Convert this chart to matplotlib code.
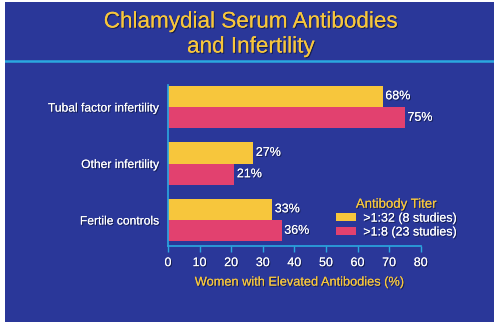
import matplotlib
matplotlib.use("Agg")
import matplotlib.pyplot as plt
import matplotlib.patheffects as pe
import numpy as np

categories = ["Tubal factor infertility", "Other infertility", "Fertile controls"]
titer_1_32 = [68, 27, 33]
titer_1_8 = [75, 21, 36]
series_labels = [">1:32 (8 studies)", ">1:8 (23 studies)"]
xticks = [0, 10, 20, 30, 40, 50, 60, 70, 80]

BG = "#2a3799"
YEL = "#f7c63c"
PINK = "#e2416f"
CYAN = "#2aa8e0"
W = 500; H = 327

plt.rcParams['font.family'] = ['Liberation Sans', 'DejaVu Sans']
shadow = [pe.withSimplePatchShadow(offset=(0.8, -0.8), shadow_rgbFace='#101840', alpha=0.8), pe.Normal()]

fig = plt.figure(figsize=(5, 3.27), dpi=100, facecolor="white")
bg = fig.add_axes([5/W, 1-322/H, (494-5)/W, (322-2)/H], zorder=-5)
bg.set_facecolor(BG)
bg.set_xticks([]); bg.set_yticks([])
for s in bg.spines.values():
    s.set_visible(False)
bg.set_xlim(5, 494); bg.set_ylim(322, 2)
bg.plot([5, 494], [61, 61], color=CYAN, lw=1.8)
bg.text(251, 22, "Chlamydial Serum Antibodies", color=YEL, fontsize=16.2, ha="center", va="center", path_effects=shadow)
bg.text(251, 47, "and Infertility", color=YEL, fontsize=16.2, ha="center", va="center", path_effects=shadow)

ax = fig.add_axes([168/W, 1-246/H, (420.7-168)/W, (246-85)/H], zorder=2)
ax.set_facecolor("none")
y = np.arange(len(categories))
h = 0.38
b1 = ax.barh(y - h/2, titer_1_32, height=h, color=YEL, label=series_labels[0])
b2 = ax.barh(y + h/2, titer_1_8, height=h, color=PINK, label=series_labels[1])
for bars, vals in ((b1, titer_1_32), (b2, titer_1_8)):
    for r, v in zip(bars, vals):
        ax.text(v + 0.8, r.get_y() + r.get_height()/2, f"{v}%", color="white", fontsize=9,
                va="center", ha="left", path_effects=shadow)
ax.set_xlim(0, 80)
ax.set_ylim(2.46, -0.39)
ax.set_xticks(xticks)
ax.set_xticklabels([str(t) for t in xticks], color="white", fontsize=9)
for t in ax.get_xticklabels():
    t.set_path_effects(shadow)
ax.set_yticks(y)
ax.set_yticklabels(categories, color="white", fontsize=8.7)
for t in ax.get_yticklabels():
    t.set_path_effects(shadow)
ax.tick_params(axis="x", colors=CYAN, labelcolor="white", length=4, width=1, pad=4)
ax.tick_params(axis="y", length=0, pad=6)
for s in ("top", "right"):
    ax.spines[s].set_visible(False)
for s in ("left", "bottom"):
    ax.spines[s].set_color(CYAN)
    ax.spines[s].set_linewidth(1.2)
ax.set_xlabel("Women with Elevated Antibodies (%)", color=YEL, fontsize=9.2, labelpad=6, path_effects=shadow)
ax.xaxis.set_label_coords(0.52, -0.19)

leg = ax.legend(loc="upper left", bbox_to_anchor=(327/W, 1-190/H), bbox_transform=fig.transFigure,
                frameon=False, fontsize=9, title="Antibody Titer", title_fontsize=9.5,
                handlelength=1.6, handleheight=0.6, handletextpad=0.6, labelspacing=0.15, borderpad=0.2)
leg.get_title().set_color(YEL)
leg.get_title().set_path_effects(shadow)
for t in leg.get_texts():
    t.set_color("white")
    t.set_path_effects(shadow)

fig.savefig("out.png", dpi=100, facecolor="white")
